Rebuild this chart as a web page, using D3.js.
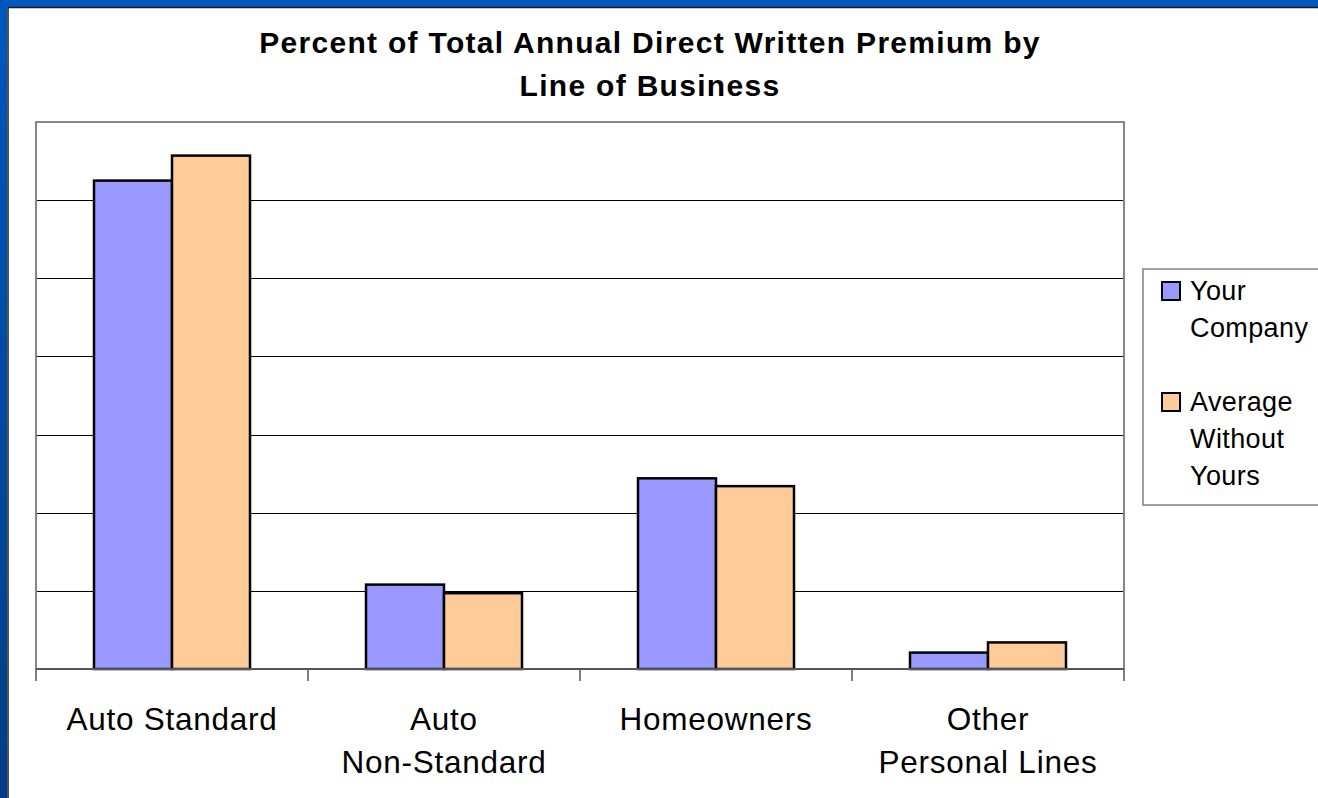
<!DOCTYPE html>
<html>
<head>
<meta charset="utf-8">
<script src="https://cdn.jsdelivr.net/npm/d3@7"></script>
<style>
  html, body { margin: 0; padding: 0; background: #fff; }
  svg { display: block; }
  text { font-family: "Liberation Sans", Arial, sans-serif; fill: #000; }
</style>
</head>
<body>
<svg id="chart" width="1318" height="798"></svg>
<script>
// Categories (each label may span two lines)
const categories = ["Auto Standard", "Auto Non-Standard", "Homeowners", "Other Personal Lines"];
const categoryLines = [["Auto Standard"], ["Auto", "Non-Standard"], ["Homeowners"], ["Other", "Personal Lines"]];

// Series values (percent of total annual direct written premium)
const seriesNames = ["Your Company", "Average Without Yours"];
const yourCompany = [62.5, 10.8, 24.4, 2.1];
const averageWithoutYours = [65.7, 9.7, 23.4, 3.4];
const seriesColors = ["#9999FF", "#FFCC99"];
const legendLines = [["Your", "Company"], ["Average", "Without", "Yours"]];

// Gridline values
const gridTicks = [10, 20, 30, 40, 50, 60];

const svg = d3.select("#chart");

// Slide frame: blue strips on the top and left edge
const defs = svg.append("defs");
const grad = defs.append("linearGradient").attr("id", "edge").attr("x1", 0).attr("y1", 0).attr("x2", 0).attr("y2", 1);
grad.append("stop").attr("offset", "0%").attr("stop-color", "#0057BC");
grad.append("stop").attr("offset", "100%").attr("stop-color", "#003E84");
svg.append("rect").attr("x", 0).attr("y", 0).attr("width", 1318).attr("height", 7).attr("fill", "#0057BC");
svg.append("rect").attr("x", 0).attr("y", 0).attr("width", 7).attr("height", 798).attr("fill", "url(#edge)");
svg.append("line").attr("x1", 8).attr("x2", 1318).attr("y1", 7.5).attr("y2", 7.5).attr("stroke", "#1a1a1a").attr("stroke-width", 1.5);
svg.append("line").attr("x1", 8).attr("x2", 8).attr("y1", 7).attr("y2", 798).attr("stroke", "#1a1a1a").attr("stroke-width", 1.5);

// Plot geometry
const plot = { left: 36, right: 1124, top: 122, bottom: 669 };

const x0 = d3.scaleBand().domain(categories).range([plot.left, plot.right]).padding(0);
const x1 = d3.scaleBand().domain(seriesNames).range([58, x0.bandwidth() - 58]).padding(0);
const y = d3.scaleLinear().domain([0, 70]).range([plot.bottom, plot.top]);

// Title
const title = svg.append("text")
  .attr("text-anchor", "middle")
  .style("font-size", "30px")
  .style("letter-spacing", "1.3px")
  .style("font-weight", "bold");
title.append("tspan").attr("x", 650).attr("y", 53).text("Percent of Total Annual Direct Written Premium by");
title.append("tspan").attr("x", 650).attr("y", 96).text("Line of Business");

// Horizontal gridlines
svg.append("g")
  .selectAll("line")
  .data(gridTicks)
  .join("line")
  .attr("x1", plot.left).attr("x2", plot.right)
  .attr("y1", d => Math.round(y(d)) + 0.5).attr("y2", d => Math.round(y(d)) + 0.5)
  .attr("stroke", "#000").attr("stroke-width", 1);

// Plot area frame (top, left, right)
svg.append("path")
  .attr("d", `M${plot.left},${plot.bottom} V${plot.top} H${plot.right} V${plot.bottom}`)
  .attr("fill", "none").attr("stroke", "#868686").attr("stroke-width", 2);

// Bars
const rows = categories.map((c, i) => ({ cat: c, vals: [yourCompany[i], averageWithoutYours[i]] }));
const groups = svg.append("g").selectAll("g")
  .data(rows)
  .join("g")
  .attr("transform", d => `translate(${x0(d.cat)},0)`);
groups.selectAll("rect")
  .data(d => d.vals.map((v, j) => ({ name: seriesNames[j], v, j })))
  .join("rect")
  .attr("x", d => x1(d.name))
  .attr("y", d => y(d.v))
  .attr("width", x1.bandwidth())
  .attr("height", d => y(0) - y(d.v))
  .attr("fill", d => seriesColors[d.j])
  .attr("stroke", "#000")
  .attr("stroke-width", 2.5);

// Category axis with tick marks between categories
const xAxis = svg.append("g").attr("transform", `translate(0,${plot.bottom})`);
xAxis.append("line").attr("x1", plot.left).attr("x2", plot.right).attr("y1", 0).attr("y2", 0)
  .attr("stroke", "#555").attr("stroke-width", 2);
const tickXs = categories.map(c => x0(c)).concat([plot.right]);
xAxis.selectAll("line.tick")
  .data(tickXs)
  .join("line").attr("class", "tick")
  .attr("x1", d => d).attr("x2", d => d).attr("y1", 0).attr("y2", 12)
  .attr("stroke", "#555").attr("stroke-width", 1.5);

const labels = svg.append("g").selectAll("text")
  .data(categories)
  .join("text")
  .attr("text-anchor", "middle")
  .style("font-size", "31.5px")
  .style("letter-spacing", "0.75px");
labels.each(function (c, i) {
  const t = d3.select(this);
  categoryLines[i].forEach((line, k) => {
    t.append("tspan")
      .attr("x", x0(c) + x0.bandwidth() / 2)
      .attr("y", 730 + k * 43)
      .text(line);
  });
});

// Legend
const legend = svg.append("g");
legend.append("rect")
  .attr("x", 1143).attr("y", 269).attr("width", 200).attr("height", 236)
  .attr("fill", "#fff").attr("stroke", "#808080").attr("stroke-width", 1.5);
const legendTop = [282, 393];
const lineGap = 37;
seriesNames.forEach((name, j) => {
  legend.append("rect")
    .attr("x", 1162).attr("y", legendTop[j])
    .attr("width", 18).attr("height", 18)
    .attr("fill", seriesColors[j]).attr("stroke", "#000").attr("stroke-width", 2);
  const t = legend.append("text").style("font-size", "27px").style("letter-spacing", "0.4px");
  legendLines[j].forEach((line, k) => {
    t.append("tspan").attr("x", 1190).attr("y", legendTop[j] + 18 + k * lineGap).text(line);
  });
});
</script>
</body>
</html>
